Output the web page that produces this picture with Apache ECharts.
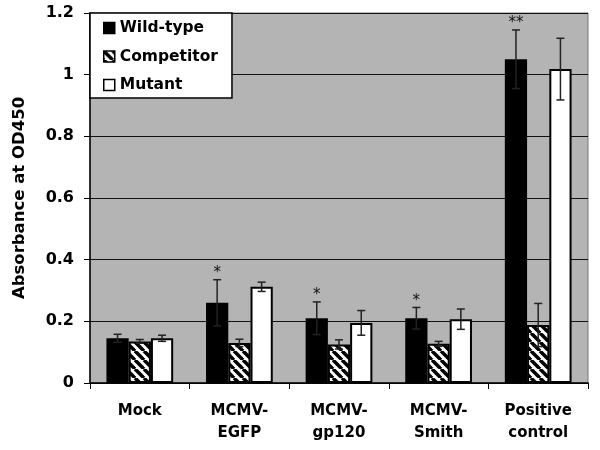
<!DOCTYPE html>
<html>
<head>
<meta charset="utf-8">
<script src="https://cdn.jsdelivr.net/npm/echarts@6/dist/echarts.min.js"></script>
<style>html,body{margin:0;padding:0;background:#fff}#c{width:600px;height:450px}</style>
</head>
<body>
<div id="c"></div>
<script>
const categories = ['Mock', 'MCMV-\nEGFP', 'MCMV-\ngp120', 'MCMV-\nSmith', 'Positive\ncontrol'];
const seriesNames = ['Wild-type', 'Competitor', 'Mutant'];
const wildType = [0.145, 0.26, 0.21, 0.21, 1.05];
const competitor = [0.135, 0.13, 0.125, 0.127, 0.188];
const mutant = [0.145, 0.312, 0.195, 0.207, 1.018];
const wildTypeErr = [0.013, 0.075, 0.053, 0.035, 0.095];
const competitorErr = [0.006, 0.012, 0.015, 0.008, 0.07];
const mutantErr = [0.01, 0.015, 0.04, 0.033, 0.1];
const wildTypeStars = ['', '*', '*', '*', '**'];
const yTicks = [0, 0.2, 0.4, 0.6, 0.8, 1, 1.2];

const FONT = 'DejaVu Sans';

// hatch pattern
const P = 9;
const pc = document.createElement('canvas');
pc.width = P; pc.height = P;
const g = pc.getContext('2d');
g.fillStyle = '#fff'; g.fillRect(0, 0, P, P);
g.strokeStyle = '#000'; g.lineWidth = 3.5;
for (const x0 of [-P, 0, P]) { g.beginPath(); g.moveTo(x0, 0); g.lineTo(x0 + P, P); g.stroke(); }
const hatch = { image: pc, repeat: 'repeat' };

const fills = ['#000', hatch, '#fff'];
const values = [wildType, competitor, mutant];
const errs = [wildTypeErr, competitorErr, mutantErr];

const errData = [];
values.forEach((arr, si) => arr.forEach((v, ci) => {
  errData.push([ci, v, errs[si][ci], si, si === 0 ? wildTypeStars[ci] : '']);
}));

const barSeries = seriesNames.map((n, i) => ({
  name: n, type: 'bar', data: values[i],
  barGap: '0%', barCategoryGap: '33%',
  itemStyle: { color: fills[i], borderColor: '#000', borderWidth: 2 }
}));

const chart = echarts.init(document.getElementById('c'), null, { renderer: 'canvas' });
chart.setOption({
  animation: false,
  backgroundColor: '#fff',
  grid: { left: 90, right: 12, top: 13, bottom: 67, show: true, backgroundColor: '#b4b4b4', borderColor: '#777', borderWidth: 1 },
  legend: {
    orient: 'vertical', left: 90, top: 13,
    backgroundColor: '#fff', borderColor: '#000', borderWidth: 1.5,
    padding: [7, 14, 5, 13], itemGap: 12.5, itemWidth: 11, itemHeight: 11,
    textStyle: { fontFamily: FONT, fontWeight: 'bold', fontSize: 15.5, color: '#000' },
    data: seriesNames.map((n, i) => ({ name: n, icon: 'rect', itemStyle: { color: fills[i], borderColor: '#000', borderWidth: 1.5 } }))
  },
  xAxis: {
    type: 'category', data: categories,
    axisLine: { lineStyle: { color: '#000', width: 1.5 } },
    axisTick: { show: true, length: 6, lineStyle: { color: '#000' } },
    axisLabel: { fontFamily: FONT, fontWeight: 'bold', fontSize: 15, color: '#000', lineHeight: 22, margin: 17 }
  },
  yAxis: {
    type: 'value', min: 0, max: 1.2, interval: 0.2,
    name: 'Absorbance at OD450', nameLocation: 'middle', nameGap: 62,
    nameTextStyle: { fontFamily: FONT, fontWeight: 'bold', fontSize: 16.5, color: '#000' },
    axisLine: { show: true, lineStyle: { color: '#000', width: 1.5 } },
    axisTick: { show: true, length: 6, lineStyle: { color: '#000' } },
    axisLabel: { fontFamily: FONT, fontWeight: 'bold', fontSize: 16, color: '#000', margin: 16,
      formatter: v => { const t = yTicks.find(x => Math.abs(x - v) < 1e-9); return String(t); } },
    splitLine: { lineStyle: { color: '#111', width: 1 } }
  },
  series: barSeries.concat([{
    type: 'custom', z: 10, silent: true,
    data: errData,
    renderItem: (params, api) => {
      const ci = api.value(0), v = api.value(1), e = api.value(2), si = api.value(3);
      const star = errData[params.dataIndex][4];
      const bandW = api.size([1, 0])[0];
      const barW = bandW * (1 - 0.33) / 3;
      const c = api.coord([ci, v]);
      const x = c[0] + (si - 1) * barW;
      const yTop = api.coord([ci, v + e])[1];
      const yBot = api.coord([ci, v - e])[1];
      const st = { stroke: '#222', lineWidth: 1.5 };
      const kids = [
        { type: 'line', shape: { x1: x, y1: yTop, x2: x, y2: yBot }, style: st },
        { type: 'line', shape: { x1: x - 4, y1: yTop, x2: x + 4, y2: yTop }, style: st },
        { type: 'line', shape: { x1: x - 4, y1: yBot, x2: x + 4, y2: yBot }, style: st }
      ];
      if (star) kids.push({ type: 'text', style: { text: star, x: x, y: yTop + 1, textAlign: 'center', textVerticalAlign: 'bottom', font: '15px ' + FONT, fill: '#111' } });
      return { type: 'group', children: kids };
    }
  }])
});
</script>
</body>
</html>
